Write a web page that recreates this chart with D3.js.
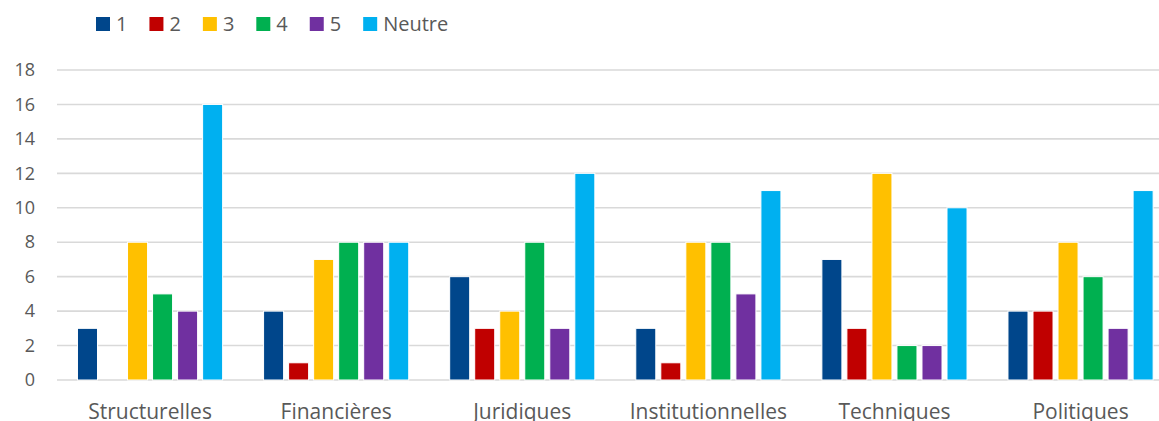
<!DOCTYPE html>
<html>
<head>
<meta charset="utf-8">
<script src="https://cdn.jsdelivr.net/npm/d3@7"></script>
<style>
  html, body { margin: 0; padding: 0; background: #fff; }
  svg { display: block; font-family: "Open Sans", "Noto Sans", sans-serif; }
</style>
</head>
<body>
<svg id="chart" width="1159" height="421"></svg>
<script>
// Categories of obstacles and the number of answers per rating
const categories = ["Structurelles", "Financières", "Juridiques", "Institutionnelles", "Techniques", "Politiques"];
const seriesNames = ["1", "2", "3", "4", "5", "Neutre"];
const series1 = [3, 4, 6, 3, 7, 4];
const series2 = [0, 1, 3, 1, 3, 4];
const series3 = [8, 7, 4, 8, 12, 8];
const series4 = [5, 8, 8, 8, 2, 6];
const series5 = [4, 8, 3, 5, 2, 3];
const seriesNeutre = [16, 8, 12, 11, 10, 11];
const yTicks = [0, 2, 4, 6, 8, 10, 12, 14, 16, 18];

const allSeries = [series1, series2, series3, series4, series5, seriesNeutre];
const colors = ["#00468B", "#C00000", "#FFC000", "#00B050", "#7030A0", "#00B0F0"];

const svg = d3.select("#chart");
const textColor = "#595959";

const plot = { left: 57, right: 1173.6, top: 70, bottom: 380 };

const x0 = d3.scaleBand()
  .domain(categories)
  .range([plot.left, plot.right])
  .paddingInner(0.22)
  .paddingOuter(0.11);

const x1 = d3.scaleBand()
  .domain(seriesNames)
  .range([0, x0.bandwidth()])
  .paddingInner(0.2);

const y = d3.scaleLinear().domain([0, 18]).range([plot.bottom, plot.top]);

// horizontal gridlines
svg.append("g")
  .selectAll("line")
  .data(yTicks)
  .join("line")
  .attr("x1", plot.left)
  .attr("x2", plot.right)
  .attr("y1", d => y(d))
  .attr("y2", d => y(d))
  .attr("stroke", "#D9D9D9")
  .attr("stroke-width", 1.6);

// y axis labels
const yAxis = d3.axisLeft(y).tickValues(yTicks).tickSize(0).tickPadding(0);
const yg = svg.append("g")
  .attr("transform", `translate(35,0)`)
  .call(yAxis);
yg.select(".domain").remove();
yg.selectAll("text")
  .attr("fill", textColor)
  .style("font-size", "18px")
  .style("font-family", "'Open Sans', sans-serif");

// bars
const groups = svg.append("g")
  .selectAll("g")
  .data(categories.map((c, i) => ({ c, i })))
  .join("g")
  .attr("transform", d => `translate(${x0(d.c)},0)`);

groups.selectAll("rect")
  .data(d => seriesNames.map((s, k) => ({ s, k, v: allSeries[k][d.i] })))
  .join("rect")
  .attr("x", d => x1(d.s))
  .attr("width", x1.bandwidth())
  .attr("y", d => y(d.v))
  .attr("height", d => y(0) - y(d.v))
  .attr("fill", d => colors[d.k])
  .attr("stroke", "#ffffff")
  .attr("stroke-width", d => d.v > 0 ? 1 : 0);

// x axis labels
const xAxis = d3.axisBottom(x0).tickSize(0).tickPadding(0);
const xg = svg.append("g")
  .attr("transform", `translate(0,${plot.bottom})`)
  .call(xAxis);
xg.select(".domain").remove();
xg.selectAll("text")
  .attr("dy", null)
  .attr("y", 39)
  .attr("fill", textColor)
  .style("font-size", "21px")
  .style("font-family", "'Open Sans', sans-serif");

// legend
const legend = svg.append("g").attr("transform", "translate(96,17)");
let lx = 0;
seriesNames.forEach((name, k) => {
  const item = legend.append("g").attr("transform", `translate(${lx},0)`);
  item.append("rect")
    .attr("width", 14).attr("height", 14)
    .attr("fill", colors[k]);
  const t = item.append("text")
    .attr("x", 20)
    .attr("y", 7)
    .attr("dy", "0.35em")
    .attr("fill", textColor)
    .style("font-size", "20px")
    .text(name);
  lx += 20 + t.node().getComputedTextLength() + 22;
});
</script>
</body>
</html>
